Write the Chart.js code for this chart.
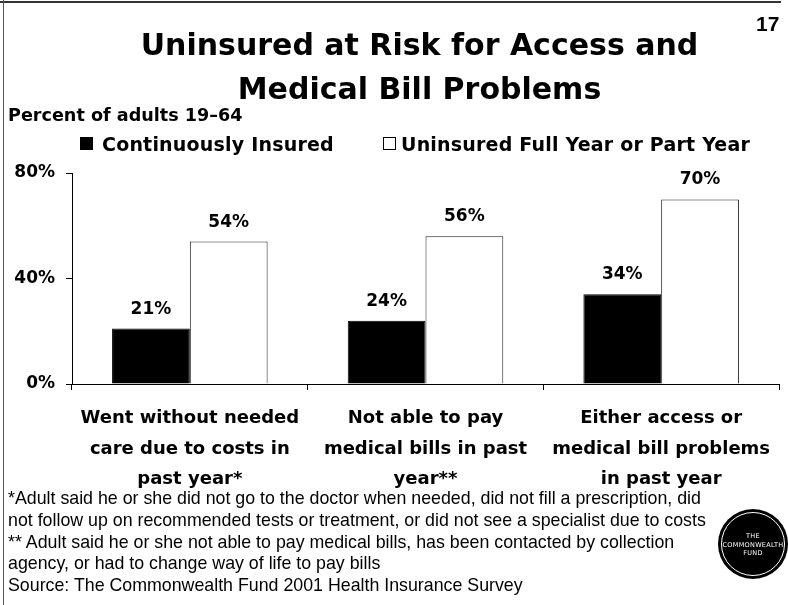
<!DOCTYPE html>
<html>
<head>
<meta charset="utf-8">
<script src="https://cdn.jsdelivr.net/npm/chart.js@4.4.1/dist/chart.umd.min.js"></script>
<style>
  html, body { margin: 0; padding: 0; background: #fff; }
  #page { position: relative; width: 788px; height: 605px; overflow: hidden; background: #fff; }
  #page canvas { position: absolute; left: 0; top: 0; }
  .frame-top { position: absolute; left: 0; top: 1px; width: 781px; height: 2px; background: #333; }
  .frame-left { position: absolute; left: 3px; top: 0; width: 1px; height: 605px; background: #555; }
  .bold { font-family: "DejaVu Sans", sans-serif; font-weight: bold; color: #000; }
  #title { position: absolute; left: 0; top: 23px; width: 839px; text-align: center; font-size: 30px; line-height: 44px; white-space: nowrap; }
  #pageno { position: absolute; left: 756px; top: 12px; font-family: "Liberation Sans Narrow", "Liberation Sans", sans-serif; font-weight: bold; font-size: 21px; }
  #subtitle { position: absolute; left: 8px; top: 105px; font-size: 17.6px; white-space: nowrap; }
  #legend { position: absolute; left: 0; top: 133px; font-size: 19px; white-space: nowrap; }
  #legend .item { position: absolute; top: 0; white-space: nowrap; }
  #legend .box { position: absolute; top: 4px; width: 11px; height: 11px; border: 1px solid #000; }
  #legend .text { position: absolute; top: 0; letter-spacing: 0.2px; }
  #notes { position: absolute; left: 8px; top: 488px; font-family: "Liberation Sans", Arial, sans-serif; font-size: 17.8px; line-height: 21.8px; color: #000; white-space: nowrap; }
  #logo { position: absolute; left: 718px; top: 509px; width: 70px; height: 70px; border-radius: 50%; background: #000; }
  #logo .ring { position: absolute; left: 3px; top: 3px; width: 62px; height: 62px; border-radius: 50%; border: 1px solid #fff; }
  #logo .name { position: absolute; left: 0; top: 23px; width: 70px; text-align: center; color: #fff; font-family: "DejaVu Sans", sans-serif; font-size: 6.5px; line-height: 8.5px; letter-spacing: 0.3px; }
</style>
</head>
<body>
<div id="page">
  <canvas id="chart" width="788" height="605"></canvas>
  <div class="frame-top"></div>
  <div class="frame-left"></div>
  <div id="title" class="bold">Uninsured at Risk for Access and<br>Medical Bill Problems</div>
  <div id="pageno">17</div>
  <div id="subtitle" class="bold">Percent of adults 19–64</div>
  <div id="legend" class="bold"></div>
  <div id="notes">
    *Adult said he or she did not go to the doctor when needed, did not fill a prescription, did<br>
    not follow up on recommended tests or treatment, or did not see a specialist due to costs<br>
    ** Adult said he or she not able to pay medical bills, has been contacted by collection<br>
    agency, or had to change way of life to pay bills<br>
    Source: The Commonwealth Fund 2001 Health Insurance Survey
  </div>
  <div id="logo"><div class="ring"></div><div class="name">THE<br>COMMONWEALTH<br>FUND</div></div>
</div>
<script>
// survey measures, one label array per category (split over lines)
const categories = [
  ["Went without needed", "care due to costs in", "past year*"],
  ["Not able to pay", "medical bills in past", "year**"],
  ["Either access or", "medical bill problems", "in past year"]
];
const seriesNames = ["Continuously Insured", "Uninsured Full Year or Part Year"];
const insured = [21, 24, 34];
const uninsured = [54, 56, 70];
const yTicks = [0, 40, 80];

const fills = ['#000000', '#ffffff'];
const legendX = [80, 383];
const textX = [102, 401];

// legend drawn as html
const legend = document.getElementById('legend');
seriesNames.forEach(function (name, i) {
  const item = document.createElement('div');
  item.className = 'item';
  item.style.left = legendX[i] + 'px';
  item.innerHTML = '<div class="box" style="left:0;background:' + fills[i] + '"></div>' +
    '<div class="text" style="left:' + (textX[i] - legendX[i]) + 'px">' + name + '</div>';
  legend.appendChild(item);
});

// value labels above bars
const valueLabels = {
  id: 'valueLabels',
  afterDatasetsDraw(chart) {
    const ctx = chart.ctx;
    ctx.save();
    ctx.fillStyle = '#000';
    ctx.font = 'bold 17px "DejaVu Sans"';
    ctx.textAlign = 'center';
    ctx.textBaseline = 'alphabetic';
    chart.data.datasets.forEach(function (ds, di) {
      chart.getDatasetMeta(di).data.forEach(function (bar, i) {
        ctx.fillText(ds.data[i] + '%', bar.x, bar.y - 15);
      });
    });
    ctx.restore();
  }
};

const ctx = document.getElementById('chart').getContext('2d');
const chart = new Chart(ctx, {
  type: 'bar',
  data: {
    labels: categories,
    datasets: [{
      label: seriesNames[0],
      data: insured,
      backgroundColor: fills[0],
      borderColor: '#000',
      borderWidth: 1
    }, {
      label: seriesNames[1],
      data: uninsured,
      backgroundColor: fills[1],
      borderColor: '#222',
      borderWidth: 1
    }]
  },
  options: {
    responsive: false,
    animation: false,
    devicePixelRatio: 1,
    categoryPercentage: 0.66,
    barPercentage: 1,
    layout: { padding: { left: 0, top: 173, right: 9, bottom: 111 } },
    plugins: {
      legend: { display: false },
      tooltip: { enabled: false }
    },
    scales: {
      x: {
        grid: { drawOnChartArea: false, drawTicks: true, tickLength: 6, color: '#000' },
        border: { display: true, color: '#000', width: 1 },
        ticks: {
          color: '#000',
          padding: 13,
          maxRotation: 0,
          autoSkip: false,
          font: { family: 'DejaVu Sans', weight: 'bold', size: 18, lineHeight: 1.7 }
        },
        afterFit(scale) { scale.height = 110; }
      },
      y: {
        min: 0,
        max: 80,
        afterBuildTicks(scale) { scale.ticks = yTicks.map(v => ({ value: v })); },
        grid: { drawOnChartArea: false, drawTicks: true, tickLength: 6, color: '#000' },
        border: { display: true, color: '#000', width: 1 },
        ticks: {
          color: '#000',
          padding: 11,
          callback: v => v + '%',
          font: { family: 'DejaVu Sans', weight: 'bold', size: 17 }
        },
        afterFit(scale) { scale.width = 72; }
      }
    }
  },
  plugins: [valueLabels]
});
</script>
</body>
</html>
